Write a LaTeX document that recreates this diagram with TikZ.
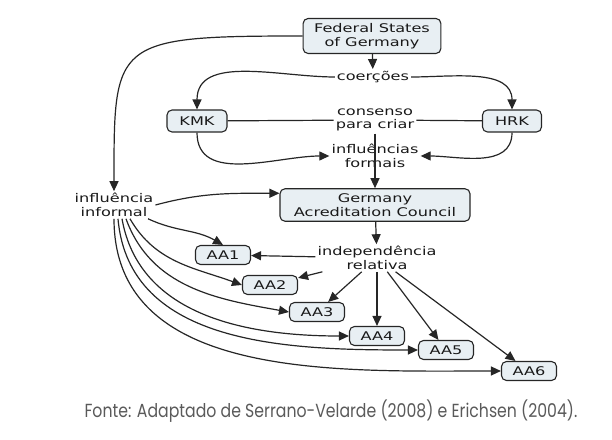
\documentclass[tikz,border=0pt]{standalone}
\usepackage{fontspec}
\setmainfont{DejaVu Sans}[FakeStretch=1.35]
\newfontfamily\sourcefont{Poppins}[FakeStretch=0.83]
\usetikzlibrary{arrows.meta}
\definecolor{boxfill}{HTML}{E8EFF3}
\definecolor{linegray}{HTML}{262626}
\definecolor{sourcegray}{HTML}{5A5A5A}
\tikzset{
  concept/.style={font=\fontsize{12}{13.5}\selectfont,text=black!90,align=center,inner sep=2bp},
  box/.style={concept,draw=linegray,fill=boxfill,rounded corners=5bp,line width=1.1bp,inner xsep=11bp,inner ysep=5bp},
  aa/.style={box,minimum width=55bp,minimum height=19bp,inner ysep=0bp},
  link/.style={draw=linegray,line width=1.2bp},
}
\begin{document}
\begin{tikzpicture}[x=1bp,y=-1bp,>={Triangle[length=10bp,width=9bp]}]
\useasboundingbox (0,0) rectangle (612,440);
% concepts
\node[box] (fed) at (372,36) {Federal States\\of Germany};
\node[concept] (coer) at (373,77) {coerções};
\node[box,minimum width=60bp,minimum height=22bp,inner ysep=0bp] (kmk) at (197,121) {KMK};
\node[box,minimum width=59bp,minimum height=22bp,inner ysep=0bp] (hrk) at (512,121) {HRK};
\node[concept] (cons) at (375,120) {consenso\\para criar};
\node[concept] (forms) at (375,156) {influências\\formais};
\node[box,minimum width=190bp] (gac) at (375,205) {Germany\\Acreditation Council};
\node[concept] (infl) at (114,205) {influência\\informal};
\node[concept] (ind) at (377,258) {independência\\relativa};
\node[aa] (aa1) at (223,255) {AA1};
\node[aa] (aa2) at (270,285) {AA2};
\node[aa] (aa3) at (317,312) {AA3};
\node[aa] (aa4) at (377,336) {AA4};
\node[aa] (aa5) at (446,350) {AA5};
\node[aa] (aa6) at (529,371) {AA6};
% links
\draw[link,->] (fed) -- (coer);
\draw[link,->] (coer.west) to[out=180,in=90] (kmk.north);
\draw[link,->] (coer.east) to[out=0,in=90] (hrk.north);
\draw[link] (kmk) -- (cons);
\draw[link] (cons) -- (hrk);
\draw[link,->] (kmk.south) to[out=-90,in=180] (forms.west);
\draw[link,->] (hrk.south) to[out=-90,in=0] (forms.east);
\draw[link,->] (cons.south) -- (gac.north);
\draw[link,->] (fed.west) .. controls +(-190,0) and +(0,-150) .. (infl.north);
\draw[link,->] (infl.east) to[out=15,in=180] (gac.173);
\draw[link,->] (gac) -- (ind);
\foreach \n in {1,...,6}
  \draw[link,->] (ind) -- (aa\n);
\draw[link,->] ([xshift=34bp]infl.south) to[out=-25,in=150] (aa1.north);
\foreach \n/\dx/\o/\i in {2/16/-60/160, 3/12/-70/170, 4/8/-80/180, 5/4/-85/180, 6/0/-90/180}
  \draw[link,->] ([xshift=\dx bp]infl.south) to[out=\o,in=\i] (aa\n.west);
% source
\node[text=sourcegray,font=\sourcefont\fontsize{19}{21}\selectfont,inner sep=0pt] (src) at (331,411)
  {Fonte: Adaptado de Serrano-Velarde (2008) e Erichsen (2004).};
\end{tikzpicture}
\end{document}
